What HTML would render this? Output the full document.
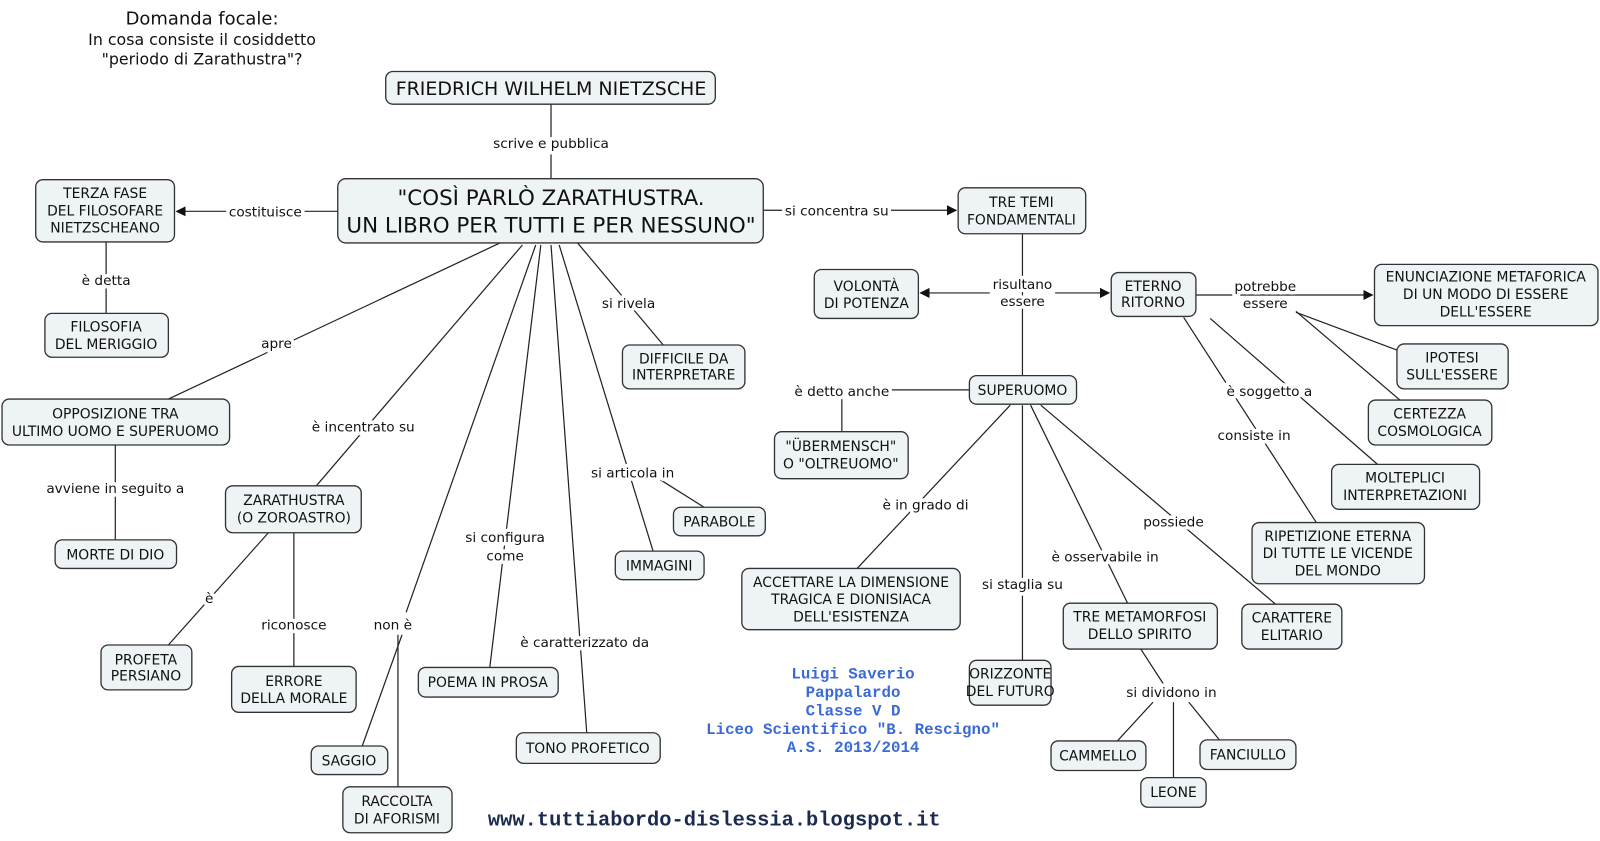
<!DOCTYPE html>
<html><head><meta charset="utf-8"><style>
html,body{margin:0;padding:0;background:#fff;}
svg{display:block;}
.n{fill:#eef3f6;stroke:#333;stroke-width:1.3;}
.t{font-family:"DejaVu Sans","Liberation Sans",sans-serif;font-size:13.6px;fill:#111;text-anchor:middle;}
.l{font-family:"DejaVu Sans","Liberation Sans",sans-serif;font-size:13.4px;fill:#111;text-anchor:middle;stroke:#fff;stroke-width:7px;paint-order:stroke;stroke-linejoin:round;}
.e{stroke:#222;stroke-width:1.2;fill:none;}
.m{font-family:"Liberation Mono",monospace;font-weight:bold;text-anchor:middle;}
</style></head><body>
<svg width="1600" height="841" viewBox="0 0 1568 824" xmlns="http://www.w3.org/2000/svg">
<defs><marker id="a" markerWidth="10" markerHeight="10" refX="9" refY="5" orient="auto" markerUnits="userSpaceOnUse"><path d="M0,0 L10,5 L0,10 z" fill="#111"/></marker></defs>

<g class="e">
<line x1="540" y1="102" x2="540" y2="175"/>
<line x1="331" y1="207" x2="173" y2="207" marker-end="url(#a)"/>
<line x1="104" y1="237" x2="104" y2="307"/>
<line x1="748" y1="206" x2="937" y2="206" marker-end="url(#a)"/>
<line x1="490" y1="238" x2="165" y2="391"/>
<line x1="113" y1="436" x2="113" y2="529"/>
<line x1="512" y1="240" x2="310" y2="476"/>
<line x1="263" y1="522" x2="165" y2="632"/>
<line x1="288" y1="522" x2="288" y2="653"/>
<line x1="525" y1="240" x2="398" y2="600"/>
<line x1="394" y1="622" x2="355" y2="731"/>
<line x1="390" y1="622" x2="390" y2="771"/>
<line x1="530" y1="240" x2="480" y2="654"/>
<line x1="540" y1="240" x2="575" y2="718"/>
<line x1="548" y1="240" x2="640" y2="540"/>
<line x1="647" y1="470" x2="690" y2="497"/>
<line x1="566" y1="238" x2="650" y2="338"/>
<line x1="1002" y1="229" x2="1002" y2="368"/>
<line x1="970" y1="287" x2="902" y2="287" marker-end="url(#a)"/>
<line x1="1034" y1="287" x2="1087" y2="287" marker-end="url(#a)"/>
<line x1="1172" y1="289" x2="1345" y2="289" marker-end="url(#a)"/>
<line x1="1160" y1="311" x2="1290" y2="512"/>
<line x1="1186" y1="312" x2="1350" y2="455"/>
<line x1="1270" y1="306" x2="1369" y2="343"/>
<line x1="1270" y1="305" x2="1372" y2="392"/>
<line x1="950" y1="382" x2="825" y2="382"/>
<line x1="825" y1="384" x2="825" y2="423"/>
<line x1="990" y1="397" x2="840" y2="557"/>
<line x1="1002" y1="397" x2="1002" y2="647"/>
<line x1="1010" y1="397" x2="1105" y2="591"/>
<line x1="1020" y1="397" x2="1250" y2="592"/>
<line x1="1118" y1="636" x2="1140" y2="670"/>
<line x1="1130" y1="688" x2="1095" y2="726"/>
<line x1="1150" y1="688" x2="1150" y2="762"/>
<line x1="1165" y1="688" x2="1195" y2="725"/>
</g>

<g class="l">
<text x="540" y="145">scrive e pubblica</text>
<text x="260" y="212">costituisce</text>
<text x="104" y="279">è detta</text>
<text x="820" y="211">si concentra su</text>
<text x="271" y="341">apre</text>
<text x="113" y="483">avviene in seguito a</text>
<text x="356" y="423">è incentrato su</text>
<text x="205" y="591">è</text>
<text x="288" y="617">riconosce</text>
<text x="385" y="617">non è</text>
<text x="495" y="531">si configura</text>
<text x="495" y="549">come</text>
<text x="573" y="634">è caratterizzato da</text>
<text x="620" y="468">si articola in</text>
<text x="616" y="302">si rivela</text>
<text x="1002" y="283">risultano</text>
<text x="1002" y="300">essere</text>
<text x="1240" y="285">potrebbe</text>
<text x="1240" y="302">essere</text>
<text x="1229" y="431">consiste in</text>
<text x="1244" y="388">è soggetto a</text>
<text x="825" y="388">è detto anche</text>
<text x="907" y="499">è in grado di</text>
<text x="1002" y="577">si staglia su</text>
<text x="1083" y="550">è osservabile in</text>
<text x="1150" y="516">possiede</text>
<text x="1148" y="683">si dividono in</text>
</g>

<g>
<rect class="n" x="378" y="70" width="323" height="32" rx="7"/>
<text class="t" x="540" y="93" style="font-size:18.6px">FRIEDRICH WILHELM NIETZSCHE</text>

<rect class="n" x="331" y="175" width="417" height="63" rx="8"/>
<text class="t" x="540" y="201" style="font-size:21px">"COSÌ PARLÒ ZARATHUSTRA.</text>
<text class="t" x="540" y="228" style="font-size:21px">UN LIBRO PER TUTTI E PER NESSUNO"</text>

<rect class="n" x="35" y="176" width="136" height="61" rx="7"/>
<text class="t" x="103" y="194">TERZA FASE</text><text class="t" x="103" y="211">DEL FILOSOFARE</text><text class="t" x="103" y="228">NIETZSCHEANO</text>

<rect class="n" x="44" y="307" width="121" height="43" rx="7"/>
<text class="t" x="104" y="325">FILOSOFIA</text><text class="t" x="104" y="342">DEL MERIGGIO</text>

<rect class="n" x="2" y="391" width="223" height="45" rx="7"/>
<text class="t" x="113" y="410">OPPOSIZIONE TRA</text><text class="t" x="113" y="427">ULTIMO UOMO E SUPERUOMO</text>

<rect class="n" x="54" y="529" width="119" height="28" rx="7"/>
<text class="t" x="113" y="548">MORTE DI DIO</text>

<rect class="n" x="221" y="476" width="133" height="46" rx="7"/>
<text class="t" x="288" y="495">ZARATHUSTRA</text><text class="t" x="288" y="512">(O ZOROASTRO)</text>

<rect class="n" x="99" y="632" width="89" height="44" rx="7"/>
<text class="t" x="143" y="651">PROFETA</text><text class="t" x="143" y="667">PERSIANO</text>

<rect class="n" x="227" y="653" width="122" height="45" rx="7"/>
<text class="t" x="288" y="672">ERRORE</text><text class="t" x="288" y="689">DELLA MORALE</text>

<rect class="n" x="305" y="731" width="75" height="28" rx="7"/>
<text class="t" x="342" y="750">SAGGIO</text>

<rect class="n" x="336" y="771" width="107" height="45" rx="7"/>
<text class="t" x="389" y="790">RACCOLTA</text><text class="t" x="389" y="807">DI AFORISMI</text>

<rect class="n" x="410" y="654" width="137" height="29" rx="7"/>
<text class="t" x="478" y="673">POEMA IN PROSA</text>

<rect class="n" x="506" y="718" width="141" height="30" rx="7"/>
<text class="t" x="576" y="738">TONO PROFETICO</text>

<rect class="n" x="603" y="540" width="87" height="28" rx="7"/>
<text class="t" x="646" y="559">IMMAGINI</text>

<rect class="n" x="660" y="497" width="90" height="28" rx="7"/>
<text class="t" x="705" y="516">PARABOLE</text>

<rect class="n" x="610" y="338" width="120" height="43" rx="7"/>
<text class="t" x="670" y="356">DIFFICILE DA</text><text class="t" x="670" y="372">INTERPRETARE</text>

<rect class="n" x="939" y="184" width="125" height="45" rx="7"/>
<text class="t" x="1001" y="203">TRE TEMI</text><text class="t" x="1001" y="220">FONDAMENTALI</text>

<rect class="n" x="798" y="264" width="102" height="48" rx="7"/>
<text class="t" x="849" y="285">VOLONTÀ</text><text class="t" x="849" y="302">DI POTENZA</text>

<rect class="n" x="1089" y="267" width="83" height="43" rx="7"/>
<text class="t" x="1130" y="285">ETERNO</text><text class="t" x="1130" y="301">RITORNO</text>

<rect class="n" x="1347" y="259" width="219" height="60" rx="7"/>
<text class="t" x="1456" y="276">ENUNCIAZIONE METAFORICA</text><text class="t" x="1456" y="293">DI UN MODO DI ESSERE</text><text class="t" x="1456" y="310">DELL'ESSERE</text>

<rect class="n" x="1369" y="337" width="109" height="44" rx="7"/>
<text class="t" x="1423" y="355">IPOTESI</text><text class="t" x="1423" y="372">SULL'ESSERE</text>

<rect class="n" x="1341" y="392" width="121" height="44" rx="7"/>
<text class="t" x="1401" y="410">CERTEZZA</text><text class="t" x="1401" y="427">COSMOLOGICA</text>

<rect class="n" x="1305" y="455" width="145" height="44" rx="7"/>
<text class="t" x="1377" y="473">MOLTEPLICI</text><text class="t" x="1377" y="490">INTERPRETAZIONI</text>

<rect class="n" x="1227" y="512" width="169" height="60" rx="7"/>
<text class="t" x="1311" y="530">RIPETIZIONE ETERNA</text><text class="t" x="1311" y="547">DI TUTTE LE VICENDE</text><text class="t" x="1311" y="564">DEL MONDO</text>

<rect class="n" x="1217" y="592" width="98" height="44" rx="7"/>
<text class="t" x="1266" y="610">CARATTERE</text><text class="t" x="1266" y="627">ELITARIO</text>

<rect class="n" x="950" y="368" width="105" height="28" rx="7"/>
<text class="t" x="1002" y="387">SUPERUOMO</text>

<rect class="n" x="759" y="423" width="131" height="46" rx="7"/>
<text class="t" x="824" y="442">"ÜBERMENSCH"</text><text class="t" x="824" y="459">O "OLTREUOMO"</text>

<rect class="n" x="727" y="557" width="214" height="60" rx="7"/>
<text class="t" x="834" y="575">ACCETTARE LA DIMENSIONE</text><text class="t" x="834" y="592">TRAGICA E DIONISIACA</text><text class="t" x="834" y="609">DELL'ESISTENZA</text>

<rect class="n" x="950" y="647" width="80" height="44" rx="7"/>
<text class="t" x="990" y="665">ORIZZONTE</text><text class="t" x="990" y="682">DEL FUTURO</text>

<rect class="n" x="1042" y="591" width="151" height="45" rx="7"/>
<text class="t" x="1117" y="609">TRE METAMORFOSI</text><text class="t" x="1117" y="626">DELLO SPIRITO</text>

<rect class="n" x="1030" y="726" width="93" height="29" rx="7"/>
<text class="t" x="1076" y="745">CAMMELLO</text>

<rect class="n" x="1118" y="762" width="64" height="29" rx="7"/>
<text class="t" x="1150" y="781">LEONE</text>

<rect class="n" x="1176" y="725" width="94" height="29" rx="7"/>
<text class="t" x="1223" y="744">FANCIULLO</text>
</g>

<text class="t" x="198" y="24" style="font-size:17.6px">Domanda focale:</text>
<text class="t" x="198" y="44" style="font-size:15.5px">In cosa consiste il cosiddetto</text>
<text class="t" x="198" y="63" style="font-size:15.5px">"periodo di Zarathustra"?</text>

<g class="m" fill="#3a6ad6" style="font-size:15.5px">
<text x="836" y="665">Luigi Saverio</text>
<text x="836" y="683">Pappalardo</text>
<text x="836" y="701">Classe V D</text>
<text x="836" y="719">Liceo Scientifico "B. Rescigno"</text>
<text x="836" y="737">A.S. 2013/2014</text>
</g>
<text class="m" x="700" y="809" fill="#1a2a50" style="font-size:20px">www.tuttiabordo-dislessia.blogspot.it</text>
</svg>
</body></html>
